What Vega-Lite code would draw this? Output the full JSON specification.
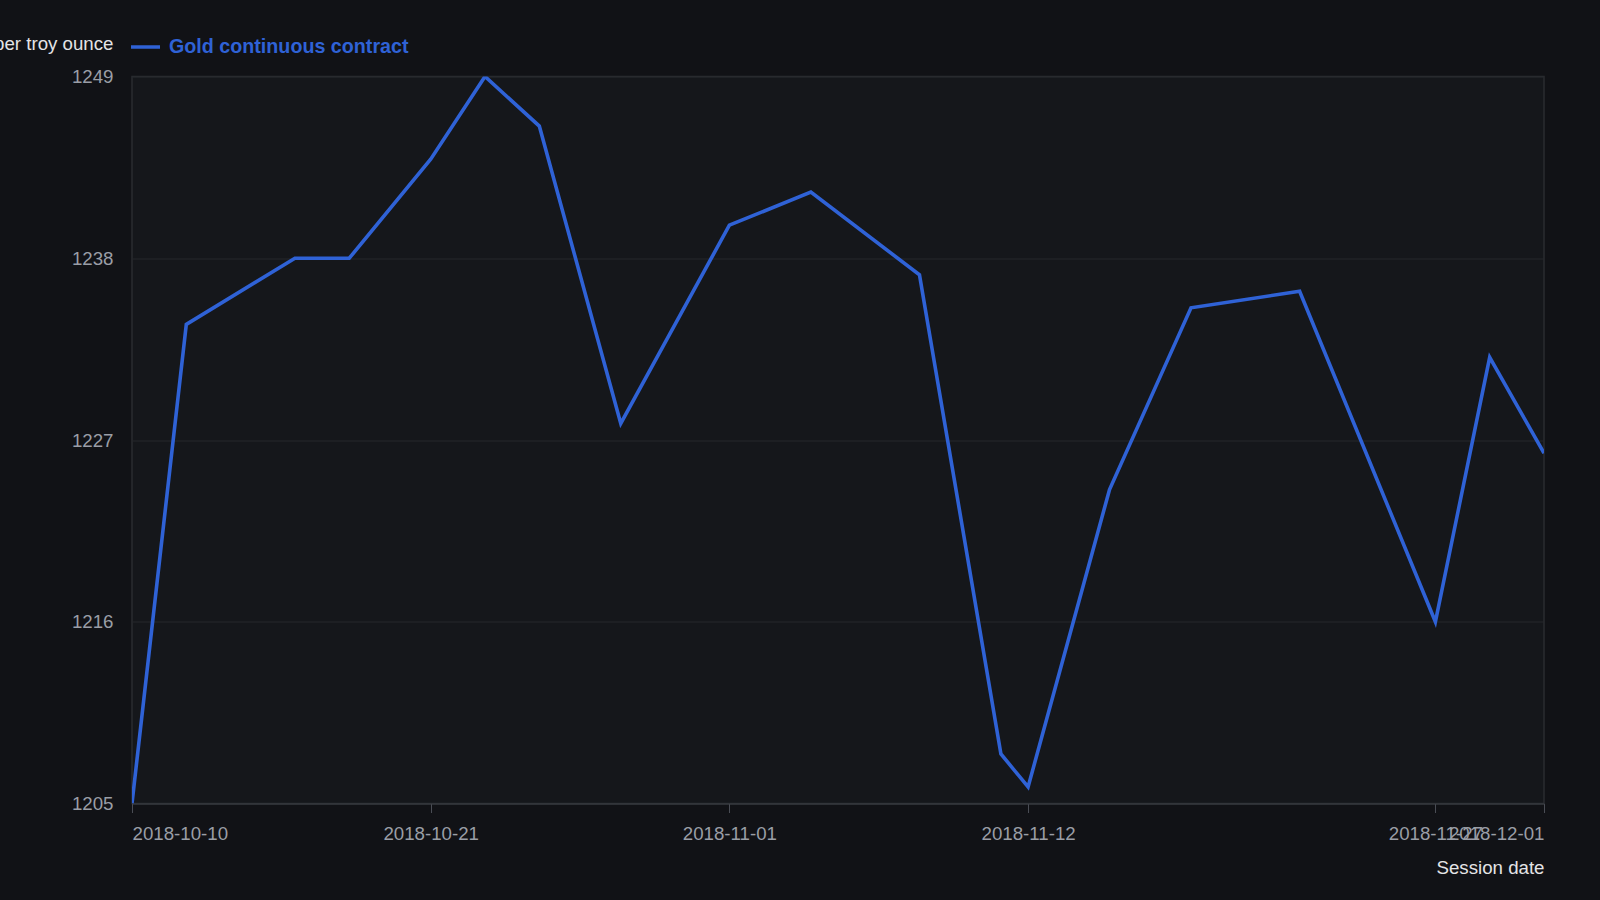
{
  "$schema": "https://vega.github.io/schema/vega-lite/v6.json",
  "description": "Gold continuous contract, daily settlement price per troy ounce.",
  "autosize": {"type": "none"},
  "width": 1412,
  "height": 727,
  "padding": {"left": 132, "top": 76.5, "right": 56, "bottom": 96.5},
  "background": "#111216",
  "data": {
    "values": [
      {"date": "2018-10-10", "price": 1205, "series": "Gold continuous contract"},
      {"date": "2018-10-12", "price": 1234, "series": "Gold continuous contract"},
      {"date": "2018-10-16", "price": 1238, "series": "Gold continuous contract"},
      {"date": "2018-10-18", "price": 1238, "series": "Gold continuous contract"},
      {"date": "2018-10-21", "price": 1244, "series": "Gold continuous contract"},
      {"date": "2018-10-23", "price": 1249, "series": "Gold continuous contract"},
      {"date": "2018-10-25", "price": 1246, "series": "Gold continuous contract"},
      {"date": "2018-10-28", "price": 1228, "series": "Gold continuous contract"},
      {"date": "2018-11-01", "price": 1240, "series": "Gold continuous contract"},
      {"date": "2018-11-04", "price": 1242, "series": "Gold continuous contract"},
      {"date": "2018-11-08", "price": 1237, "series": "Gold continuous contract"},
      {"date": "2018-11-11", "price": 1208, "series": "Gold continuous contract"},
      {"date": "2018-11-12", "price": 1206, "series": "Gold continuous contract"},
      {"date": "2018-11-15", "price": 1224, "series": "Gold continuous contract"},
      {"date": "2018-11-18", "price": 1235, "series": "Gold continuous contract"},
      {"date": "2018-11-22", "price": 1236, "series": "Gold continuous contract"},
      {"date": "2018-11-27", "price": 1216, "series": "Gold continuous contract"},
      {"date": "2018-11-29", "price": 1232, "series": "Gold continuous contract"},
      {"date": "2018-12-01", "price": 1226.2, "series": "Gold continuous contract"}
    ]
  },
  "mark": {"type": "line", "strokeWidth": 3.6, "strokeJoin": "miter", "clip": true},
  "encoding": {
    "x": {
      "field": "date",
      "type": "temporal",
      "scale": {"type": "utc", "nice": false},
      "axis": {
        "title": "Session date",
        "format": "%Y-%m-%d",
        "values": [
          {"year": 2018, "month": 10, "date": 10, "utc": true},
          {"year": 2018, "month": 10, "date": 21, "utc": true},
          {"year": 2018, "month": 11, "date": 1, "utc": true},
          {"year": 2018, "month": 11, "date": 12, "utc": true},
          {"year": 2018, "month": 11, "date": 27, "utc": true},
          {"year": 2018, "month": 12, "date": 1, "utc": true}
        ],
        "labelOverlap": false,
        "labelFlush": true,
        "grid": false,
        "ticks": true,
        "tickSize": 9,
        "tickColor": "#4a4d55",
        "labelPadding": 12,
        "domainColor": "#3d4047",
        "titleAnchor": null,
        "titleAlign": "right",
        "titleBaseline": "alphabetic",
        "titleX": 1412,
        "titleY": 70
      }
    },
    "y": {
      "field": "price",
      "type": "quantitative",
      "scale": {"domain": [1205, 1249], "nice": false, "zero": false},
      "axis": {
        "title": "USD per troy ounce",
        "values": [1205, 1216, 1227, 1238, 1249],
        "format": "d",
        "ticks": false,
        "domain": false,
        "labelPadding": 19,
        "gridColor": "#26282d",
        "titleAngle": 0,
        "titleAnchor": null,
        "titleAlign": "right",
        "titleBaseline": "alphabetic",
        "titleX": -19,
        "titleY": -27
      }
    },
    "color": {
      "field": "series",
      "type": "nominal",
      "scale": {"range": ["#2f62d6"]},
      "legend": {
        "title": null,
        "orient": "none",
        "legendX": -3,
        "legendY": -46,
        "padding": 0,
        "symbolType": "stroke",
        "symbolSize": 841,
        "symbolStrokeWidth": 3.5,
        "labelOffset": 7,
        "labelLimit": 0,
        "labelFontSize": 19.7,
        "labelFontWeight": "bold",
        "labelFont": "Liberation Sans",
        "labelColor": "#2f62d6"
      }
    }
  },
  "config": {
    "font": "Liberation Sans",
    "view": {"fill": "#15171b", "stroke": "#2a2c31", "strokeWidth": 1.5},
    "axis": {
      "labelFont": "Liberation Sans",
      "labelFontSize": 18.7,
      "labelColor": "#9a9ea6",
      "titleFont": "Liberation Sans",
      "titleFontSize": 18.7,
      "titleFontWeight": "normal",
      "titleColor": "#e4e4e6"
    }
  }
}
